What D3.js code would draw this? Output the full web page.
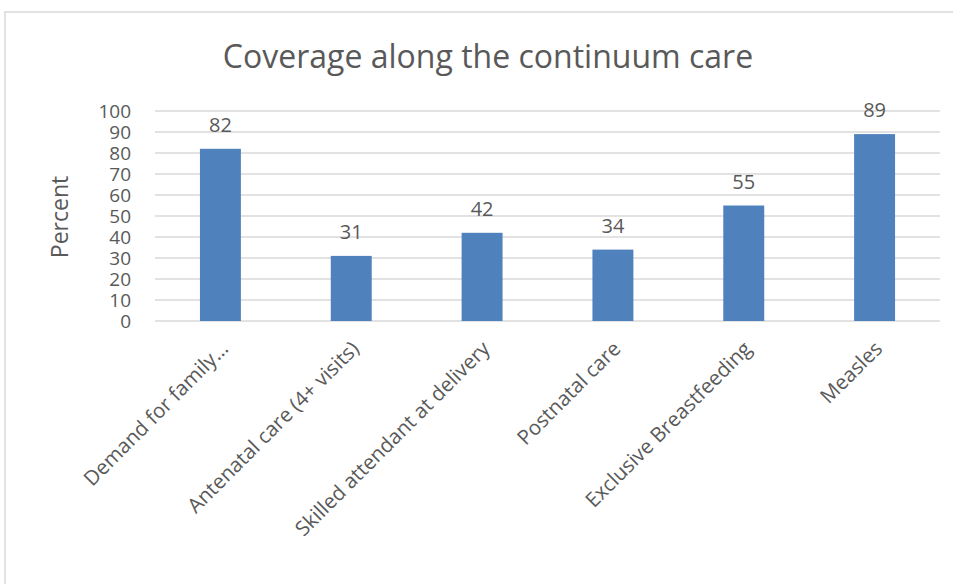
<!DOCTYPE html>
<html>
<head>
<meta charset="utf-8">
<script src="https://cdn.jsdelivr.net/npm/d3@7"></script>
<style>
  body { margin: 0; background: #fff; }
  text { font-family: "Open Sans", sans-serif; fill: #595959; }
</style>
</head>
<body>
<svg id="chart" width="953" height="584"></svg>
<script>
// chart data
var categories = ["Demand for family\u2026", "Antenatal care (4+ visits)", "Skilled attendant at delivery",
                  "Postnatal care", "Exclusive Breastfeeding", "Measles"];
var values = [82, 31, 42, 34, 55, 89];
var yTicks = [0, 10, 20, 30, 40, 50, 60, 70, 80, 90, 100];

var svg = d3.select("#chart");
var plotLeft = 155, plotRight = 940, plotTop = 111, plotBottom = 321;

// outer frame
svg.append("rect")
    .attr("x", 5).attr("y", 12)
    .attr("width", 960).attr("height", 600)
    .attr("fill", "none")
    .attr("stroke", "#d9d9d9")
    .attr("stroke-width", 1.5);

svg.append("text")
    .attr("x", 488).attr("y", 68)
    .attr("text-anchor", "middle")
    .attr("font-size", 32)
    .text("Coverage along the continuum care");

var x = d3.scaleBand().domain(categories).range([plotLeft, plotRight]).padding(0);
var y = d3.scaleLinear().domain([0, 100]).range([plotBottom, plotTop]);

// gridlines
svg.append("g").selectAll("line")
    .data(yTicks)
    .join("line")
    .attr("x1", plotLeft).attr("x2", plotRight)
    .attr("y1", d => y(d)).attr("y2", d => y(d))
    .attr("stroke", "#d9d9d9")
    .attr("stroke-width", 1.3);

// y axis labels
svg.append("g").selectAll("text")
    .data(yTicks)
    .join("text")
    .attr("x", 131)
    .attr("y", d => y(d) + 7)
    .attr("text-anchor", "end")
    .attr("font-size", 19)
    .text(d => d);

svg.append("text")
    .attr("transform", "translate(68,217) rotate(-90)")
    .attr("text-anchor", "middle")
    .attr("font-size", 23)
    .text("Percent");

var barW = x.bandwidth() * 0.313;

svg.append("g").selectAll("rect")
    .data(values)
    .join("rect")
    .attr("x", (d, i) => x(categories[i]) + x.bandwidth() / 2 - barW / 2)
    .attr("y", d => y(d))
    .attr("width", barW)
    .attr("height", d => y(0) - y(d))
    .attr("fill", "#4f81bd");

// value labels
svg.append("g").selectAll("text")
    .data(values)
    .join("text")
    .attr("x", (d, i) => x(categories[i]) + x.bandwidth() / 2)
    .attr("y", d => y(d) - 17)
    .attr("text-anchor", "middle")
    .attr("font-size", 20)
    .text(d => d);

// category labels, rotated
svg.append("g").selectAll("text")
    .data(categories)
    .join("text")
    .attr("transform", d => "translate(" + (x(d) + x.bandwidth() / 2 + 9) + ",350) rotate(-45)")
    .attr("text-anchor", "end")
    .attr("font-size", 20.5)
    .text(d => d);
</script>
</body>
</html>
